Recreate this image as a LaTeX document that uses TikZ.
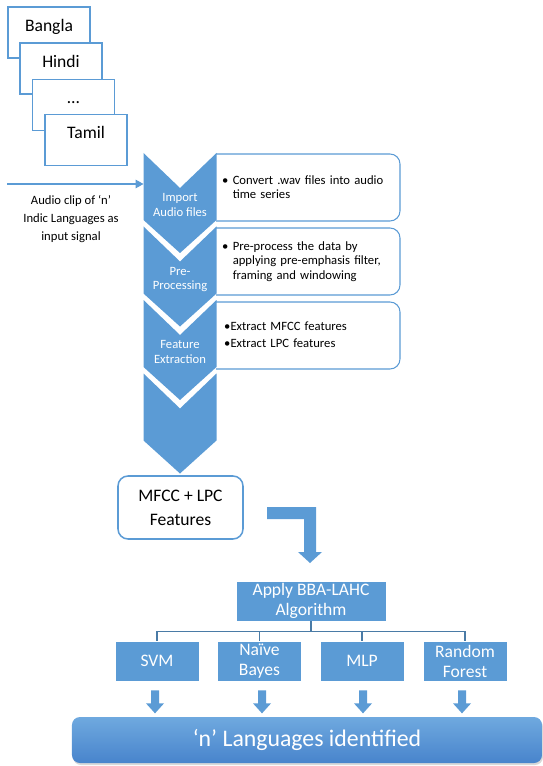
\documentclass[tikz,border=0pt]{standalone}
\usepackage{fontspec}
\setmainfont{Carlito}
\usetikzlibrary{calc,positioning,arrows.meta,shadows}
\definecolor{bleu}{HTML}{5B9BD5}
\definecolor{bleuclair}{HTML}{6FA9DF}
\definecolor{bleufonce}{HTML}{4884CC}
\definecolor{trait}{HTML}{4A7BA6}
\tikzset{
	langue/.style={draw=bleu,fill=white,line width=0.9pt,minimum width=2.46cm,minimum height=1.53cm,inner sep=0pt},
	nomlangue/.style={anchor=base,font=\fontsize{15pt}{18pt}\selectfont},
	boite/.style={draw=bleu,fill=white,line width=0.9pt,rounded corners=3mm},
	puce/.style={anchor=west,align=left,text width=5.3cm,inner sep=0pt,font=\fontsize{10.8pt}{12.2pt}\selectfont},
	etape/.style={text=white,align=center,inner sep=0pt,font=\fontsize{10.8pt}{12.2pt}\selectfont},
	bloc/.style={fill=bleu,draw=white,line width=0.6pt,text=white,align=center,minimum height=1.2cm,inner sep=0pt,font=\fontsize{15pt}{17pt}\selectfont},
	fleche/.style={fill=bleu},
}
\begin{document}
\begin{tikzpicture}[x=0.03cm,y=-0.03cm]
	\useasboundingbox (0,0) rectangle (543,766);
	%langues en pile
	\node[langue] (bangla) at (49,32.5) {};
	\node[nomlangue] (tbangla) at (49,31.5) {Bangla};
	\node[langue] (hindi) at (61,68.5) {};
	\node[nomlangue] (thindi) at (61,67.5) {Hindi};
	\node[langue] (autres) at (73.5,105) {};
	\node[nomlangue] (tautres) at (73.5,104) {\dots};
	\node[langue] (tamil) at (86,140) {};
	\node[nomlangue] (ttamil) at (86,139) {Tamil};

	%boites de texte
	\filldraw[boite] (216,154) -- (400,154) -- (400,221) -- (216,221);
	\filldraw[boite] (216,228) -- (400,228) -- (400,295) -- (216,295);
	\filldraw[boite] (216,302) -- (400,302) -- (400,369) -- (216,369);
	\node[puce] (p1) at (222,187.5) {\textbullet\ Convert .wav files into audio\\\hphantom{\textbullet\ }time series};
	\node[puce] (p2) at (222,261.5) {\textbullet\ Pre-process the data by\\\hphantom{\textbullet\ }applying pre-emphasis filter,\\\hphantom{\textbullet\ }framing and windowing};
	\node[puce,font=\fontsize{10.8pt}{14.5pt}\selectfont] (p3) at (224,334.5) {\textbullet Extract MFCC features\\\textbullet Extract LPC features};

	%chevrons
	\foreach \t in {153,226.5,300,373.5}
		\fill[bleu] (143.5,\t) -- (180,\t+35) -- (216.5,\t) -- (216.5,\t+67) -- (180,\t+100) -- (143.5,\t+67) -- cycle;
	\node[etape] (e1) at (180,205) {Import\\Audio files};
	\node[etape] (e2) at (180,279.5) {Pre-\\Processing};
	\node[etape] (e3) at (180,352) {Feature\\Extraction};

	%signal d'entree
	\coordinate (src) at (7,184);
	\coordinate (imp) at (143.5,184);
	\draw[bleu,line width=0.9pt,-{Triangle[length=2.4mm,width=2.6mm]}] (src) -- (imp);
	\node[align=center,font=\fontsize{10.8pt}{15.4pt}\selectfont] (entree) at (71,219) {Audio clip of ‘n’\\Indic Languages as\\input signal};

	%caracteristiques
	\node[draw=bleu,line width=1.3pt,rounded corners=3mm,minimum width=3.75cm,minimum height=1.89cm,align=center,font=\fontsize{15pt}{20.5pt}\selectfont] (mfcc) at (180.5,507.5) {MFCC + LPC\\Features};
	\fill[fleche] (267,507) -- (316,507) -- (316,552) -- (322,552) -- (310,563) -- (298,552) -- (304,552) -- (304,519) -- (267,519) -- cycle;

	%classifieurs
	\node[bloc,minimum width=4.5cm] (algo) at (311,601) {Apply BBA-LAHC\\Algorithm};
	\node[bloc,minimum width=2.52cm] (svm) at (157,661) {SVM};
	\node[bloc,minimum width=2.52cm] (bayes) at (259.5,661) {Naïve\\Bayes};
	\node[bloc,minimum width=2.52cm] (mlp) at (362,661) {MLP};
	\node[bloc,minimum width=2.52cm] (rf) at (465,661) {Random\\Forest};
	\draw[trait,line width=1pt] (algo.south) -- ++(0,10) coordinate (j);
	\foreach \n in {svm,bayes,mlp,rf}
		\draw[trait,line width=1pt] (j) -| (\n.north);
	\foreach \n/\d in {svm/-2,bayes/2.5,mlp/1,rf/-3}
		\fill[fleche] ($(\n.south)+(\d-4,9)$) -- ++(8,0) -- ++(0,13) -- ++(5,0) -- ++(-9,10) -- ++(-9,-10) -- ++(5,0) -- cycle;

	%resultat
	\node[top color=bleuclair,bottom color=bleufonce,rounded corners=2.4mm,minimum width=14.1cm,minimum height=1.38cm,drop shadow={opacity=0.3,shadow xshift=0.03cm,shadow yshift=-0.06cm},text=white,font=\fontsize{20.3pt}{24pt}\selectfont] (fin) at (307,740) {‘n’ Languages identified};
\end{tikzpicture}
\end{document}
